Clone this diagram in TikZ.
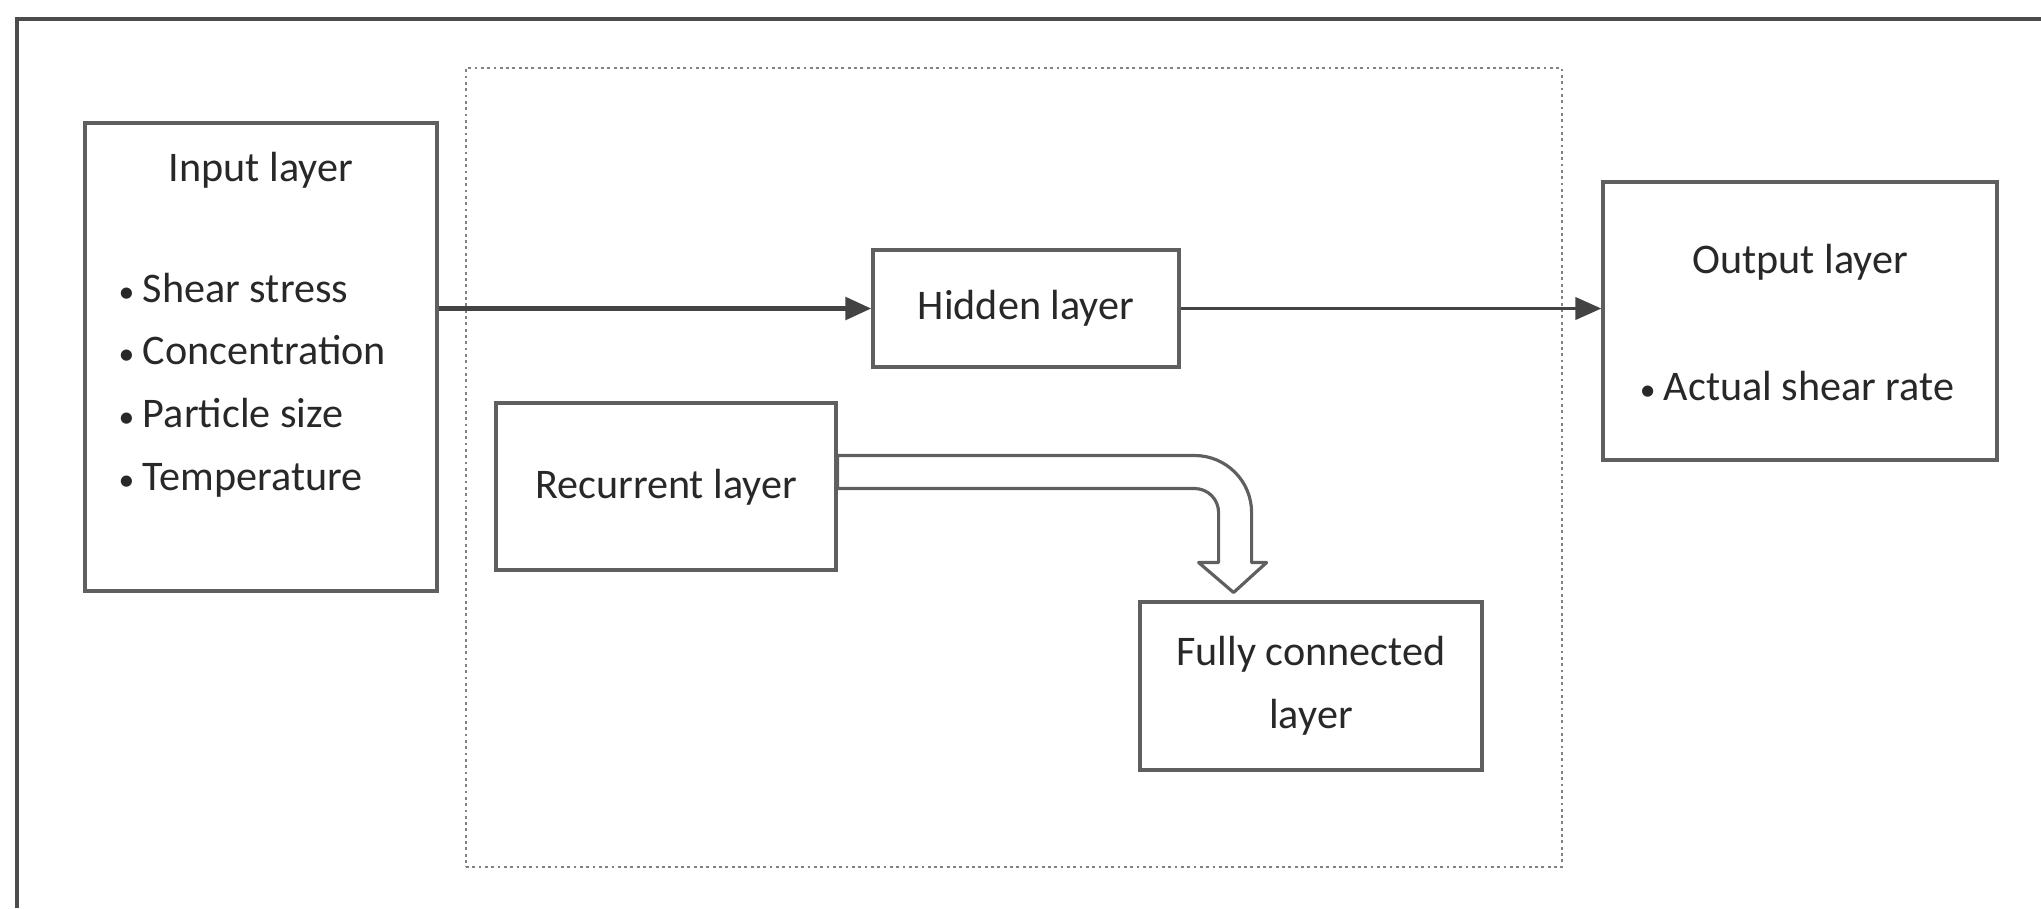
\documentclass[tikz,border=0pt]{standalone}
\usepackage{fontspec}
\setmainfont{Carlito}
\usepackage{tikz}
\usetikzlibrary{calc,positioning,arrows.meta}
\definecolor{linegray}{RGB}{95,95,95}
\definecolor{textgray}{RGB}{40,40,40}
\definecolor{dotgray}{RGB}{130,130,130}

\newcommand{\smallbul}{{\fontsize{9}{9}\selectfont\textbullet}\hspace{0.2em}}

\tikzset{
  box/.style={draw=linegray, line width=0.9pt, rectangle},
  lbl/.style={font=\fontsize{12}{18}\selectfont, text=textgray, inner sep=0pt},
  flow/.style={draw=linegray!70!black, -{Triangle[length=0.26cm,width=0.22cm]}},
  hollow/.style={draw=linegray, line width=0.9pt, line join=round}
}

\begin{document}
\begin{tikzpicture}
  \useasboundingbox (0,0) rectangle (20.41,-9.08);
  % outer frame (only top and left edges show)
  \draw[draw=linegray!80!black, line width=1pt] (0.17,-9.08) |- (20.41,-0.19);

  % dotted group round the hidden part
  \node[draw=dotgray, densely dotted, line width=0.8pt, minimum width=10.96cm, minimum height=7.99cm] (rnn) at (10.14,-4.675) {};

  % layers
  \node[box, minimum width=3.52cm, minimum height=4.68cm] (input) at (2.61,-3.57) {};
  \node[box, minimum width=3.06cm, minimum height=1.17cm] (hidden) at (10.26,-3.085) {};
  \node[box, minimum width=3.94cm, minimum height=2.78cm] (output) at (18.00,-3.21) {};
  \node[box, minimum width=3.40cm, minimum height=1.67cm] (rec) at (6.66,-4.865) {};
  \node[box, minimum width=3.42cm, minimum height=1.68cm] (fc) at (13.11,-6.86) {};

  % texts
  \node[lbl] (intitle) at (2.61,-1.70) {Input layer};
  \foreach \t [count=\i] in {Shear stress,Concentration,Particle size,Temperature}
    \node[lbl, anchor=base west] (in\i) at (1.18,{-3.02-0.627*(\i-1)}) {\smallbul\t};
  \node[lbl] (hidtext) at (hidden) {Hidden layer};
  \node[lbl] (outtitle) at (18.00,-2.62) {Output layer};
  \node[lbl] (outitem) at (17.97,-3.86) {\smallbul Actual shear rate};
  \node[lbl] (rectext) at (6.66,-4.87) {Recurrent layer};
  \node[lbl, align=center] (fctext) at (fc) {Fully connected\\layer};

  % connectors
  \draw[flow, line width=1.5pt] (input.east |- hidden.west) -- (hidden.west);
  \draw[flow, line width=1.1pt] (hidden.east) -- (hidden.east -| output.west);

  % hollow bent arrow from recurrent to fully connected
  \draw[hollow] ($(rec.east)+(0,0.31)$) -- ++(3.57,0)
    arc[start angle=90, end angle=0, radius=0.57] -- ++(0,-0.50)
    -- ++(0.15,0) -- ++(-0.33,-0.30) -- ++(-0.35,0.30) -- ++(0.20,0)
    -- ++(0,0.50) arc[start angle=0, end angle=90, radius=0.24]
    -- ($(rec.east)+(0,-0.02)$) -- cycle;
\end{tikzpicture}
\end{document}
